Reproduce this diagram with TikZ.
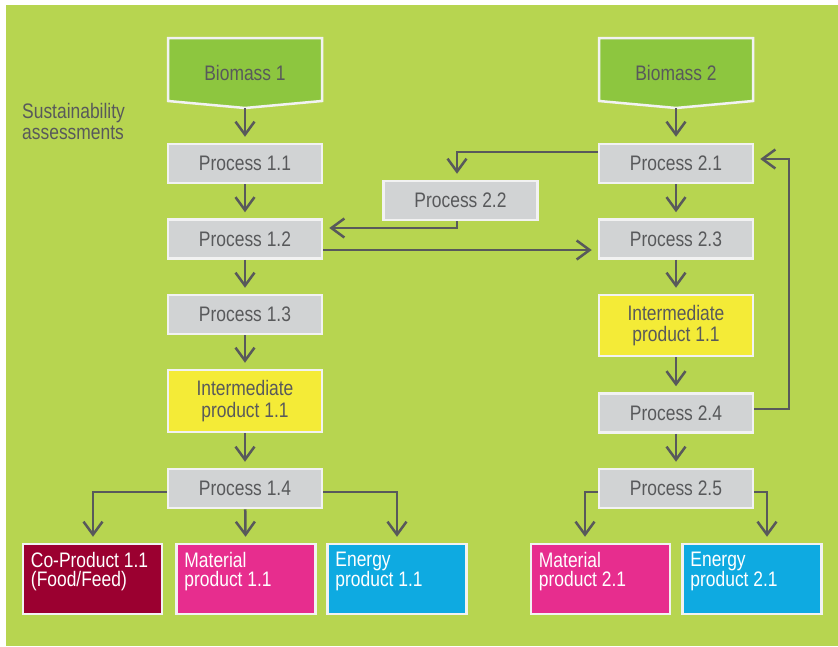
\documentclass[tikz,border=0pt]{standalone}
\usepackage{fontspec}
\setmainfont[FakeStretch=0.83]{Liberation Sans}
\usetikzlibrary{arrows.meta}
\definecolor{bggreen}{RGB}{183,213,80}
\definecolor{biogreen}{RGB}{141,198,63}
\definecolor{procgray}{RGB}{209,211,212}
\definecolor{interyellow}{RGB}{244,235,55}
\definecolor{coprodred}{RGB}{155,0,48}
\definecolor{matmagenta}{RGB}{231,45,142}
\definecolor{encyan}{RGB}{14,170,225}
\definecolor{txtgray}{RGB}{88,89,91}
\definecolor{edgewhite}{RGB}{242,242,242}
\tikzset{
  box/.style={draw=edgewhite, line width=2.5pt, inner sep=0pt, text=txtgray,
    font=\fontsize{21}{21.7}\selectfont, align=center},
  proc/.style={box, fill=procgray, minimum width=154pt, minimum height=39pt},
  inter/.style={box, fill=interyellow, minimum width=154pt},
  prod/.style={box, minimum width=139pt, minimum height=70pt},
  arr/.style={draw=txtgray, line width=2.5pt, -{Straight Barb[length=13pt,width=19pt]}, shorten >=6pt},
  lbl/.style={text=txtgray, font=\fontsize{21}{21}\selectfont, align=left, inner sep=0pt},
  prodlbl/.style={lbl, text=white, font=\fontsize{21}{19}\selectfont, anchor=north west},
}
\begin{document}
\begin{tikzpicture}[x=1pt,y=-1pt]
\useasboundingbox (0,0) rectangle (838,646);
\fill[bggreen] (6,5) rectangle (838,646);
% biomass shapes
\filldraw[fill=biogreen, draw=edgewhite, line width=2.5pt]
  (168,38) -- (322,38) -- (322,101) -- (245,108) -- (168,101) -- cycle;
\filldraw[fill=biogreen, draw=edgewhite, line width=2.5pt]
  (599,38) -- (753,38) -- (753,101) -- (676,108) -- (599,101) -- cycle;
\node[box, draw=none] (b1) at (245,73) {Biomass 1};
\node[box, draw=none] (b2) at (676,73) {Biomass 2};
\coordinate (b1tip) at (245,108);
\coordinate (b2tip) at (676,108);
\node[lbl, anchor=north west] (sa) at (22,103) {Sustainability\\assessments};
% left column
\node[proc] (p11) at (245,163.5) {Process 1.1};
\node[proc] (p12) at (245,239) {Process 1.2};
\node[proc] (p13) at (245,314.5) {Process 1.3};
\node[inter, minimum height=62pt] (i11) at (245,401) {Intermediate\\product 1.1};
\node[proc] (p14) at (245,488.5) {Process 1.4};
% right column
\node[proc] (p21) at (676,163.5) {Process 2.1};
\node[proc] (p22) at (460.5,200.5) {Process 2.2};
\node[proc] (p23) at (676,239) {Process 2.3};
\node[inter, minimum height=61pt] (i21) at (676,325.5) {Intermediate\\product 1.1};
\node[proc] (p24) at (676,413) {Process 2.4};
\node[proc] (p25) at (676,488.5) {Process 2.5};
% products
\node[prod, fill=coprodred] (c11) at (92.5,579) {};
\node[prod, fill=matmagenta] (m11) at (246,579) {};
\node[prod, fill=encyan] (e11) at (397,579) {};
\node[prod, fill=matmagenta] (m21) at (600.5,579) {};
\node[prod, fill=encyan] (e21) at (752,579) {};
\node[prodlbl] (c11t) at ([xshift=9pt,yshift=-9pt]c11.north west) {Co-Product 1.1\\(Food/Feed)};
\node[prodlbl] (m11t) at ([xshift=9pt,yshift=-9pt]m11.north west) {Material\\product 1.1};
\node[prodlbl] (e11t) at ([xshift=9pt,yshift=-9pt]e11.north west) {Energy\\product 1.1};
\node[prodlbl] (m21t) at ([xshift=9pt,yshift=-9pt]m21.north west) {Material\\product 2.1};
\node[prodlbl] (e21t) at ([xshift=9pt,yshift=-9pt]e21.north west) {Energy\\product 2.1};
% vertical arrows
\draw[arr] (b1tip) -- (p11.north);
\draw[arr] (p11) -- (p12);
\draw[arr] (p12) -- (p13);
\draw[arr] (p13) -- (i11);
\draw[arr] (i11) -- (p14);
\draw[arr] (p14) -- (m11);
\draw[arr] (b2tip) -- (p21.north);
\draw[arr] (p21) -- (p23);
\draw[arr] (p23) -- (i21);
\draw[arr] (i21) -- (p24);
\draw[arr] (p24) -- (p25);
% branches
\draw[arr] (p14.west |- 0,492) -| (c11.north -| 93,0);
\draw[arr] (p14.east |- 0,492) -| (e11.north);
\draw[arr] (p25.west |- 0,492) -| (m21.north -| 585,0);
\draw[arr] (p25.east |- 0,492) -| (e21.north -| 767,0);
% cross connections
\draw[arr] (p21.west |- 0,152) -| (p22.north -| 457,0);
\draw[arr] (p22.south -| 457,0) |- (p12.east |- 0,228);
\draw[arr] (p12.east |- 0,250) -- (p23.west |- 0,250);
\draw[arr] (p24.east |- 0,409) -- (789,409) |- (p21.east |- 0,159);
\end{tikzpicture}
\end{document}
